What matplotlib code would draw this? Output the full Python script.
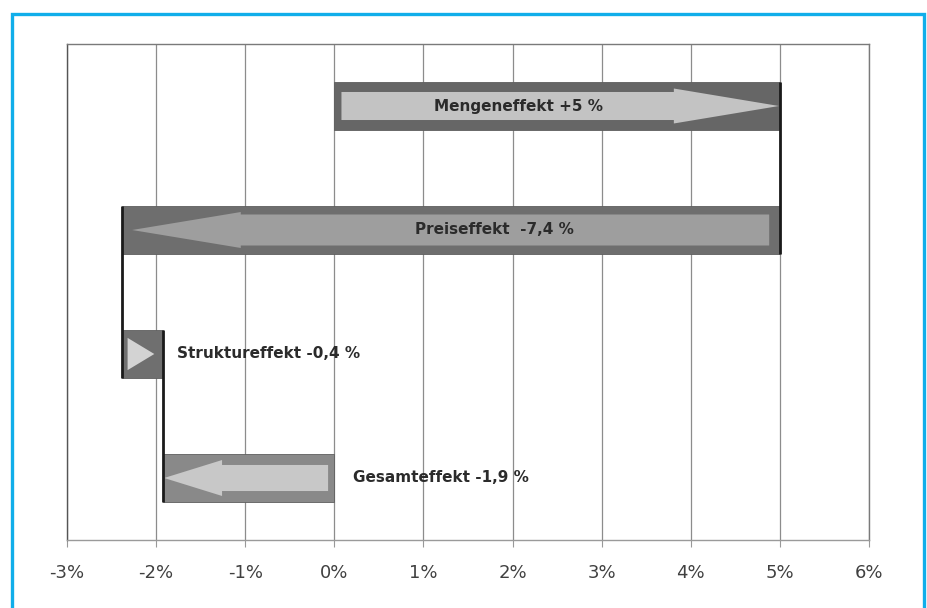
import numpy as np
import matplotlib.pyplot as plt
from matplotlib.patches import Rectangle

# Effekte (Start- und Endwert in %)
labels = ["Mengeneffekt +5 %", "Preiseffekt  -7,4 %", "Struktureffekt -0,4 %", "Gesamteffekt -1,9 %"]
starts = [0.0, 5.0, -2.38, 0.0]
ends = [5.0, -2.38, -1.92, -1.92]
ticks = [-3, -2, -1, 0, 1, 2, 3, 4, 5, 6]

# Darstellung
bar_colors = ["#666666", "#6e6e6e", "#6f6f6f", "#898989"]
arrow_colors = ["#c3c3c3", "#9e9e9e", "#d3d3d3", "#c8c8c8"]
# pad_tail, pad_tip, head_len, shaft_h, head_h
arrow_style = [
    (0.08, 0.01, 1.18, 0.113, 0.141),
    (0.12, 0.11, 1.22, 0.125, 0.145),
    (0.07, 0.10, 0.30, 0.0, 0.13),
    (0.07, 0.01, 0.65, 0.105, 0.145),
]
label_x = [2.07, 1.8, -1.77, 0.21]
label_ha = ["center", "center", "left", "left"]
BAR_H = 0.387


def arrow_points(start, end, y, pad_tail, pad_tip, head_len, shaft_h, head_h):
    d = np.sign(end - start)
    tail = start + d * pad_tail
    tip = end - d * pad_tip
    base = tip - d * head_len
    xs = [tail, base, base, tip, base, base, tail]
    ys = [y - shaft_h, y - shaft_h, y - head_h, y, y + head_h, y + shaft_h, y + shaft_h]
    return xs, ys


fig = plt.figure(figsize=(9.28, 6.08), dpi=100)
ax = fig.add_axes([67 / 928, 68 / 608, 802 / 928, 496 / 608])

pos = np.arange(len(labels))
widths = [e - s for s, e in zip(starts, ends)]
ax.barh(pos, widths, left=starts, height=BAR_H, color=bar_colors,
        edgecolor="#5e5e5e", linewidth=0.6, zorder=2)

for i in pos:
    xs, ys = arrow_points(starts[i], ends[i], i, *arrow_style[i])
    ax.fill(xs, ys, color=arrow_colors[i], zorder=3, linewidth=0)
    ax.text(label_x[i], i, labels[i], ha=label_ha[i], va="center",
            fontsize=11, fontweight="bold", color="#2b2b2b", zorder=5)

# Verbindungslinien
for i in range(len(labels) - 1):
    x = ends[i]
    ax.plot([x, x], [i - BAR_H / 2, i + 1 + BAR_H / 2], color="#1a1a1a",
            lw=2.0, zorder=4, solid_capstyle="butt")

ax.set_xlim(-3, 6)
ax.set_ylim(len(labels) - 0.5, -0.5)
ax.set_xticks(ticks)
ax.set_xticklabels([f"{t}%" for t in ticks])
ax.set_yticks([])
ax.tick_params(axis="x", length=5, color="#999999", labelsize=13,
               labelcolor="#404040", pad=12)
ax.grid(axis="x", color="#8c8c8c", linewidth=0.9)
ax.set_axisbelow(True)
for name, sp in ax.spines.items():
    sp.set_color("#7a7a7a")
    sp.set_linewidth(1.0)
ax.spines["left"].set_color("#555555")
ax.spines["bottom"].set_color("#9a9a9a")

# blauer Rahmen
fig.patches.append(Rectangle((12 / 928, -0.05), 912 / 928, 1.05 - 14 / 608,
                             transform=fig.transFigure, fill=False,
                             edgecolor="#10aeea", linewidth=2.4))

fig.savefig("out.png", dpi=100)
